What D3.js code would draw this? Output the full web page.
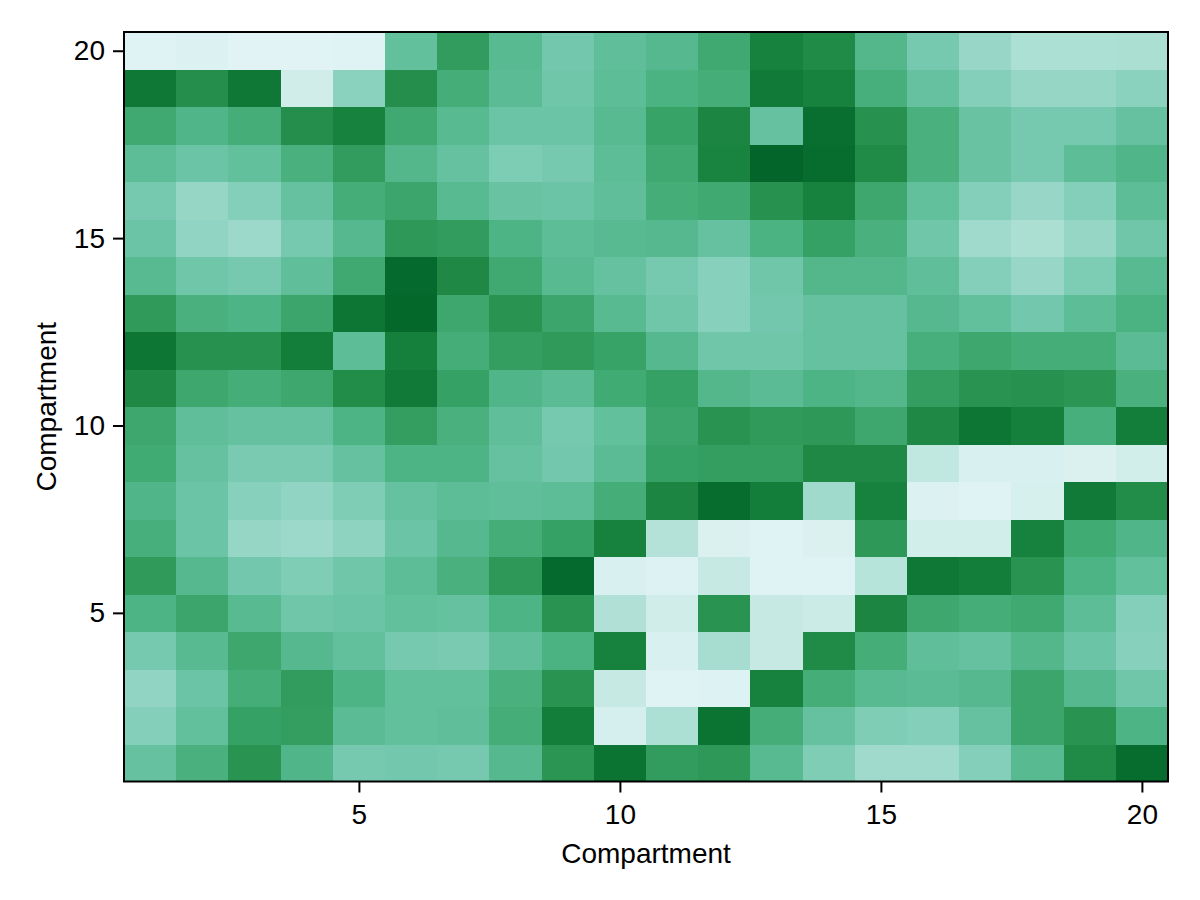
<!DOCTYPE html>
<html><head><meta charset="utf-8">
<script src="https://cdn.jsdelivr.net/npm/d3@7"></script>
<style>html,body{margin:0;padding:0;background:#fff}svg{display:block}</style>
</head><body><svg id="c" width="1200" height="900"></svg>
<script>
const tickValues=[5,10,15,20];
const xLabel="Compartment", yLabel="Compartment";
const row20=[.06,.08,.05,.05,.06,.48,.68,.52,.43,.49,.53,.62,.8,.76,.54,.42,.32,.26,.26,.27];
const row19=[.84,.74,.84,.14,.36,.74,.6,.51,.44,.5,.57,.6,.83,.8,.59,.47,.38,.33,.33,.36];
const row18=[.62,.55,.6,.74,.8,.62,.52,.45,.45,.52,.65,.78,.47,.88,.73,.58,.46,.42,.42,.47];
const row17=[.5,.45,.48,.58,.68,.54,.47,.4,.42,.5,.62,.79,.92,.89,.76,.58,.46,.42,.5,.55];
const row16=[.42,.33,.38,.47,.6,.64,.52,.46,.45,.49,.6,.62,.73,.8,.63,.48,.38,.32,.38,.5];
const row15=[.45,.34,.31,.42,.53,.7,.68,.56,.5,.52,.53,.47,.57,.66,.58,.44,.3,.27,.33,.44];
const row14=[.52,.44,.42,.49,.62,.9,.77,.62,.52,.47,.42,.37,.44,.54,.54,.49,.38,.32,.4,.52];
const row13=[.69,.58,.56,.64,.85,.91,.63,.72,.64,.52,.44,.37,.43,.47,.47,.53,.48,.43,.5,.57];
const row12=[.85,.73,.73,.82,.5,.81,.6,.67,.69,.65,.53,.44,.44,.47,.47,.59,.63,.6,.6,.51];
const row11=[.77,.63,.6,.63,.75,.83,.66,.55,.51,.61,.66,.54,.51,.56,.54,.67,.72,.73,.71,.58];
const row10=[.63,.49,.47,.47,.56,.67,.58,.49,.42,.48,.64,.72,.69,.7,.63,.77,.85,.81,.59,.82];
const row9=[.61,.47,.41,.41,.47,.56,.56,.47,.43,.51,.66,.67,.67,.77,.77,.2,.1,.1,.09,.13];
const row8=[.55,.45,.37,.34,.39,.47,.5,.49,.5,.6,.78,.89,.82,.3,.8,.08,.06,.11,.83,.75];
const row7=[.59,.45,.33,.31,.35,.45,.53,.6,.66,.8,.24,.09,.06,.09,.7,.13,.13,.8,.61,.55];
const row6=[.69,.53,.43,.39,.44,.5,.58,.7,.9,.1,.07,.18,.06,.06,.23,.84,.82,.72,.56,.48];
const row5=[.56,.64,.52,.44,.45,.48,.47,.56,.72,.25,.14,.72,.18,.16,.78,.63,.6,.62,.5,.38];
const row4=[.42,.52,.63,.53,.48,.42,.41,.49,.57,.8,.1,.28,.18,.76,.6,.49,.47,.54,.45,.37];
const row3=[.34,.45,.6,.68,.56,.48,.48,.58,.72,.18,.06,.07,.8,.6,.52,.51,.53,.64,.53,.44];
const row2=[.38,.48,.66,.67,.51,.48,.49,.6,.82,.12,.26,.86,.6,.47,.39,.38,.47,.64,.72,.56];
const row1=[.47,.58,.72,.55,.42,.43,.42,.53,.71,.86,.68,.7,.52,.39,.3,.3,.38,.52,.76,.89];
const rows=[row1,row2,row3,row4,row5,row6,row7,row8,row9,row10,row11,row12,row13,row14,row15,row16,row17,row18,row19,row20];

const L=124,R=1168,T=32,B=781.5;
const x=d3.scaleLinear().domain([0.5,20.5]).range([L,R]);
const y=d3.scaleLinear().domain([0.5,20.5]).range([B,T]);
const color=d3.scaleSequential(d3.interpolateBuGn).domain([-0.115,1.04]);
const svg=d3.select("#c");
const font="'Liberation Sans',Arial,sans-serif";
const cells=rows.flatMap((r,j)=>r.map((v,i)=>({i:i+1,j:j+1,v})));
svg.append("g").attr("shape-rendering","crispEdges").selectAll("rect").data(cells).join("rect")
 .attr("x",d=>x(d.i-.5)).attr("y",d=>y(d.j+.5))
 .attr("width",d=>x(d.i+.5)-x(d.i-.5)+.5).attr("height",d=>y(d.j-.5)-y(d.j+.5)+.5)
 .attr("fill",d=>color(d.v));
const ax=svg.append("g").attr("transform",`translate(0,${B})`).call(d3.axisBottom(x).tickValues(tickValues).tickSize(11).tickPadding(12).tickFormat(d3.format("d")));
const ay=svg.append("g").attr("transform",`translate(${L},0)`).call(d3.axisLeft(y).tickValues(tickValues).tickSize(11).tickPadding(8).tickFormat(d3.format("d")));
[ax,ay].forEach(a=>{a.select(".domain").remove();a.selectAll("line").attr("stroke","#000").attr("stroke-width",2);
 a.selectAll("text").attr("fill","#000").style("font-family",font).style("font-size","28px");});
svg.append("rect").attr("x",L).attr("y",T).attr("width",R-L).attr("height",B-T).attr("fill","none").attr("stroke","#000").attr("stroke-width",2);
svg.append("text").attr("x",(L+R)/2).attr("y",863).attr("text-anchor","middle").style("font-family",font).style("font-size","28px").text(xLabel);
svg.append("text").attr("transform",`translate(56,${(T+B)/2}) rotate(-90)`).attr("text-anchor","middle").style("font-family",font).style("font-size","28px").text(yLabel);
</script></body></html>
